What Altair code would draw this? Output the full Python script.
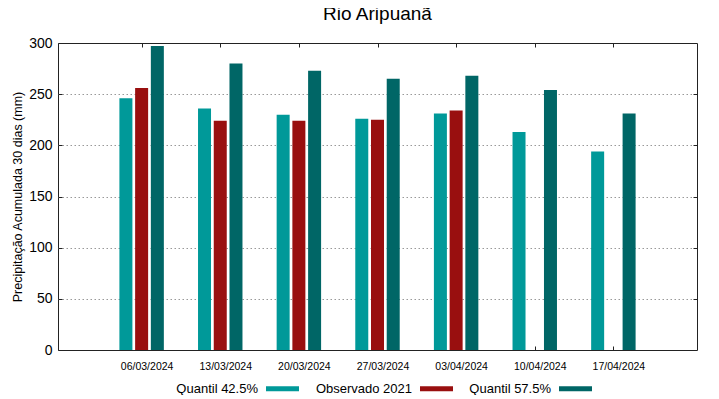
import altair as alt
import pandas as pd

dates = ["06/03/2024", "13/03/2024", "20/03/2024", "27/03/2024",
         "03/04/2024", "10/04/2024", "17/04/2024"]
q425 = [246, 236, 230, 226, 231, 213, 194]
obs2021 = [256, 224, 224, 225, 234, None, None]
q575 = [297, 280, 273, 265, 268, 254, 231]
series = ["Quantil 42.5%", "Observado 2021", "Quantil 57.5%"]
colors = ["#009999", "#990f0f", "#006666"]
y_ticks = [0, 50, 100, 150, 200, 250, 300]
grid_ticks = [50, 100, 150, 200, 250]

rows = []
for k, (name, vals) in enumerate(zip(series, [q425, obs2021, q575])):
    for i, v in enumerate(vals):
        if v is not None:
            rows.append({"i": i, "k": k, "serie": name, "valor": v})
df = pd.DataFrame(rows)

W, H = 639, 307
FONT = "Liberation Sans"
label_expr = "[" + ",".join(f"'{d}'" for d in dates) + "][datum.value]"

xscale = alt.Scale(domain=[-1, 7], nice=False, zero=False)
yscale = alt.Scale(domain=[0, 300], nice=False)

base = alt.Chart(df).transform_calculate(xpos="datum.i + (datum.k - 1) * 0.2")

# legend sample: a flat bar drawn to the right of its (right-aligned) label
legend_shape = "M1.485,-0.15L3.485,-0.15L3.485,0.15L1.485,0.15Z"

bars = base.mark_bar(size=13).encode(
    x=alt.X("xpos:Q", scale=xscale,
            axis=alt.Axis(orient="top", offset=-H, values=list(range(len(dates))),
                          labelExpr=label_expr, tickSize=4, tickColor="#222",
                          labelPadding=-15, labelBaseline="top", labelOffset=5,
                          domain=False, grid=False, title=None, labelFontSize=10.5,
                          labelColor="#000", labelOverlap=False, labelFlush=False,
                          labelFont=FONT)),
    y=alt.Y("valor:Q", scale=yscale,
            axis=alt.Axis(orient="right", offset=-W, values=y_ticks, tickSize=4,
                          tickColor="#222", labelPadding=-10, labelAlign="right",
                          grid=False, domain=False, labelFontSize=14, labelColor="#000",
                          labelFont=FONT,
                          title="Precipitação Acumulada 30 dias (mm)", titleAngle=270,
                          titleX=-41, titleY=H / 2, titleAlign="center",
                          titleBaseline="middle", titleFontSize=12.5,
                          titleFontWeight="normal", titleColor="#000", titleFont=FONT)),
    color=alt.Color("serie:N", scale=alt.Scale(domain=series, range=colors), sort=series,
                    legend=alt.Legend(orient="none", legendX=167, legendY=329,
                                      direction="horizontal", title=None,
                                      symbolType=legend_shape,
                                      symbolSize=1089, symbolStrokeWidth=0,
                                      labelAlign="right", labelOffset=0,
                                      columnPadding=15, labelFontSize=13,
                                      labelLimit=250, labelFont=FONT, labelColor="#000")),
)

ticks = base.mark_bar(size=13, opacity=0).encode(
    x=alt.X("xpos:Q", scale=xscale,
            axis=alt.Axis(orient="bottom", offset=-H, values=list(range(len(dates))),
                          tickSize=4, tickColor="#222", labels=False, domain=False,
                          grid=False, title=None)),
    y=alt.Y("valor:Q", scale=yscale,
            axis=alt.Axis(orient="left", offset=-W, values=grid_ticks, tickSize=4,
                          tickColor="#222", labels=False, domain=False, grid=True,
                          gridDash=[1.5, 2.5], gridColor="#999", gridWidth=1, title=None)),
)

chart = (
    alt.layer(bars, ticks)
    .resolve_axis(x="independent", y="independent")
    .properties(
        width=W, height=H,
        padding={"left": 50, "top": 35, "right": 14, "bottom": 45},
        autosize=alt.AutoSizeParams(type="none"),
        title=alt.TitleParams(text="Rio Aripuanã", fontSize=19, font=FONT,
                              fontWeight="normal", anchor="middle", color="#000",
                              offset=12),
    )
    .configure_view(stroke="#222", strokeWidth=1)
)

chart.save("out.html", embed_options={"renderer": "svg", "actions": False})
